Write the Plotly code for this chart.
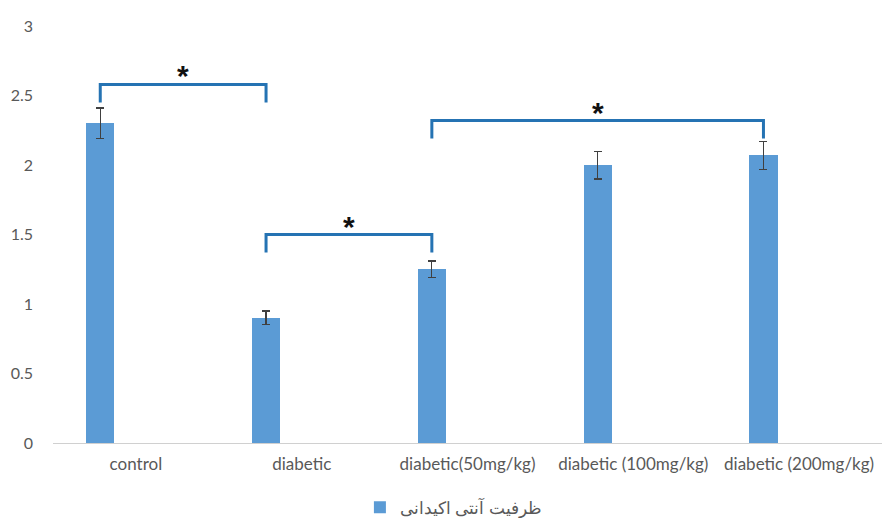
import plotly.graph_objects as go

categories = ["control", "diabetic", "diabetic(50mg/kg)", "diabetic (100mg/kg)", "diabetic (200mg/kg)"]
values = [2.30, 0.90, 1.25, 2.00, 2.07]
errors = [0.11, 0.05, 0.06, 0.10, 0.10]
series_name = "ظرفیت آنتی اکیدانی"

# significance brackets: (from category index, to category index, top y, leg bottom y)
bracket_pairs = [(0, 1), (1, 2), (2, 4)]
bracket_tops = [2.58, 1.50, 2.32]
bracket_legs = [2.45, 1.37, 2.19]
bracket_label = "*"

bar_offset = -0.30
bar_width = 0.17
bar_color = "#5B9BD5"
bracket_color = "#2573B3"
font_family = "Lato, 'Open Sans', sans-serif"

fig = go.Figure()
fig.add_trace(go.Bar(
    x=categories, y=values, name=series_name,
    marker=dict(color=bar_color, line=dict(width=0)),
    offset=bar_offset, width=bar_width,
    error_y=dict(type="data", array=errors, visible=True, color="#404040", thickness=1.2, width=4),
    showlegend=True,
))

center_shift = bar_offset + bar_width / 2
for (a, b), top, leg in zip(bracket_pairs, bracket_tops, bracket_legs):
    xa = a + center_shift
    xb = b + center_shift
    fig.add_shape(type="path",
                  path=f"M {xa},{leg} L {xa},{top} L {xb},{top} L {xb},{leg}",
                  xref="x", yref="y", line=dict(color=bracket_color, width=3))
    fig.add_annotation(x=(xa + xb) / 2, y=top, xref="x", yref="y", text="<b>" + bracket_label + "</b>",
                       showarrow=False, yanchor="bottom", yshift=-10,
                       font=dict(size=30, color="#111111", family="Liberation Sans, Arial, sans-serif"))

fig.update_layout(
    width=888, height=518,
    margin=dict(l=53, r=6, t=26, b=75, autoexpand=False),
    paper_bgcolor="white", plot_bgcolor="white",
    font=dict(family=font_family, size=17, color="#595959"),
    xaxis=dict(type="category", range=[-0.5, 4.5], showline=True, linecolor="#D0D0D0", linewidth=1,
               showgrid=False, ticks="", tickfont=dict(size=17, color="#595959"), ticklabelstandoff=6),
    yaxis=dict(range=[0, 3], dtick=0.5, showgrid=False, zeroline=False, showline=False,
               ticks="", tickfont=dict(size=16, color="#595959"), ticklabelstandoff=19),
    legend=dict(orientation="h", x=0.483, xanchor="center", yref="container", y=0.02, yanchor="middle",
                font=dict(size=17, color="#595959"), itemwidth=30),
    bargap=0,
)

fig.write_html("out.html", config={"displayModeBar": False},
               post_script="document.body.style.margin='0';document.body.style.padding='0';")
